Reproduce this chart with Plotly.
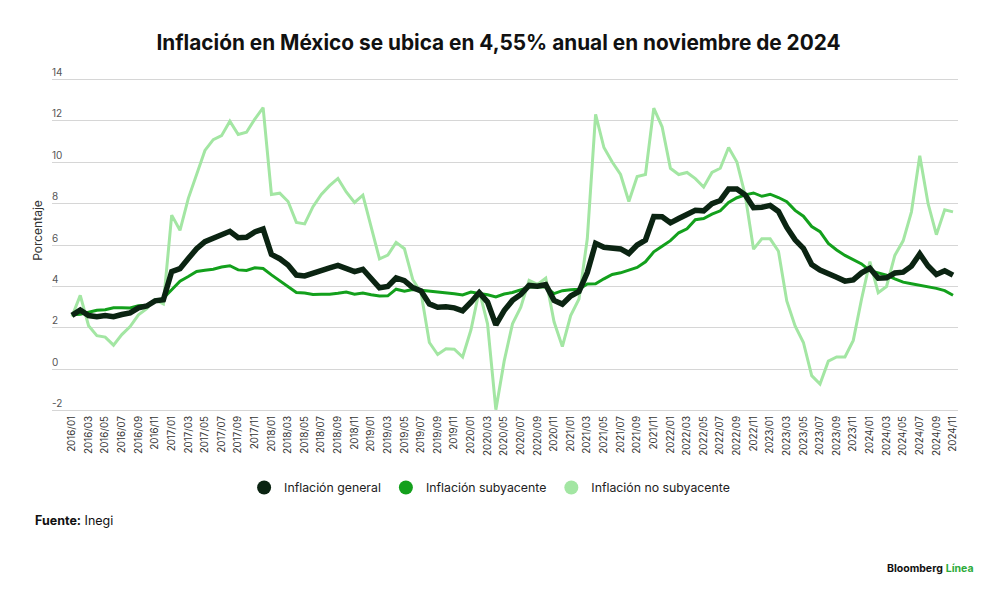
import plotly.graph_objects as go

# Month labels 2016/01 .. 2024/11
months = [f"{y}/{m:02d}" for y in range(2016, 2025) for m in range(1, 13)][:107]

# Inflación general (headline), % anual
general = [
    2.61, 2.87, 2.60, 2.54, 2.60, 2.54, 2.65, 2.73, 2.97, 3.06, 3.31, 3.36,
    4.72, 4.86, 5.35, 5.82, 6.16, 6.31, 6.44, 6.66, 6.35, 6.37, 6.63, 6.77,
    5.55, 5.34, 5.04, 4.55, 4.51, 4.65, 4.81, 4.90, 5.02, 4.90, 4.72, 4.83,
    4.37, 3.94, 4.00, 4.41, 4.28, 3.95, 3.78, 3.16, 3.00, 3.02, 2.97, 2.83,
    3.24, 3.70, 3.25, 2.15, 2.84, 3.33, 3.62, 4.05, 4.01, 4.09, 3.33, 3.15,
    3.54, 3.76, 4.67, 6.08, 5.89, 5.88, 5.81, 5.59, 6.00, 6.24, 7.37, 7.36,
    7.07, 7.28, 7.45, 7.68, 7.65, 7.99, 8.15, 8.70, 8.70, 8.41, 7.80, 7.82,
    7.91, 7.62, 6.85, 6.25, 5.84, 5.06, 4.79, 4.64, 4.45, 4.26, 4.32, 4.66,
    4.88, 4.40, 4.42, 4.65, 4.69, 4.98, 5.57, 4.99, 4.58, 4.76, 4.55,
]

# Inflación subyacente (core)
subyacente = [
    2.64, 2.66, 2.76, 2.85, 2.88, 2.97, 2.97, 2.96, 3.07, 3.10, 3.29, 3.44,
    3.84, 4.26, 4.48, 4.72, 4.78, 4.83, 4.94, 5.00, 4.80, 4.77, 4.90, 4.87,
    4.56, 4.27, 4.02, 3.71, 3.69, 3.62, 3.63, 3.63, 3.67, 3.73, 3.63, 3.68,
    3.60, 3.54, 3.55, 3.87, 3.77, 3.85, 3.82, 3.78, 3.75, 3.68, 3.65, 3.59,
    3.73, 3.66, 3.60, 3.50, 3.64, 3.71, 3.85, 3.97, 3.99, 3.98, 3.66, 3.80,
    3.84, 3.87, 4.12, 4.13, 4.37, 4.58, 4.66, 4.78, 4.92, 5.19, 5.67, 5.94,
    6.21, 6.59, 6.78, 7.22, 7.28, 7.49, 7.65, 8.05, 8.28, 8.42, 8.51, 8.35,
    8.45, 8.29, 8.09, 7.67, 7.39, 6.89, 6.64, 6.08, 5.76, 5.50, 5.30, 5.09,
    4.76, 4.64, 4.55, 4.37, 4.21, 4.13, 4.05, 4.00, 3.91, 3.80, 3.58,
]

# Inflación no subyacente (non-core)
no_subyacente = [
    2.55, 3.57, 2.11, 1.63, 1.56, 1.17, 1.68, 2.07, 2.63, 2.93, 3.37, 3.16,
    7.44, 6.71, 8.25, 9.36, 10.56, 11.08, 11.27, 11.97, 11.33, 11.44, 12.07, 12.62,
    8.44, 8.50, 8.10, 7.09, 7.02, 7.85, 8.44, 8.86, 9.21, 8.56, 8.05, 8.40,
    6.80, 5.33, 5.51, 6.13, 5.82, 4.34, 3.70, 1.30, 0.72, 1.00, 0.98, 0.60,
    1.90, 3.80, 2.20, -1.94, 0.40, 2.20, 3.00, 4.30, 4.10, 4.40, 2.30, 1.10,
    2.60, 3.40, 6.30, 12.30, 10.70, 10.00, 9.40, 8.10, 9.30, 9.40, 12.60, 11.70,
    9.70, 9.40, 9.50, 9.20, 8.80, 9.50, 9.70, 10.70, 10.00, 8.40, 5.80, 6.30,
    6.30, 5.70, 3.30, 2.10, 1.30, -0.30, -0.70, 0.40, 0.60, 0.60, 1.40, 3.40,
    5.20, 3.70, 4.00, 5.50, 6.20, 7.60, 10.30, 8.00, 6.50, 7.70, 7.60,
]

y_ticks = [-2, 0, 2, 4, 6, 8, 10, 12, 14]
y_ticktext = ["-2", "0", "2", "4", "6", "8", "10", "12", "14"]

series = [
    ("Inflación no subyacente", no_subyacente, "#a3e6a3", 3),
    ("Inflación subyacente", subyacente, "#13a01c", 3),
    ("Inflación general", general, "#0b2412", 5.5),
]
legend_order = ["Inflación general", "Inflación subyacente", "Inflación no subyacente"]
colors = {name: c for name, _, c, _ in series}

fig = go.Figure()

for name, vals, color, width in series:
    fig.add_trace(go.Scatter(
        x=months, y=vals, mode="lines", name=name, showlegend=False,
        line=dict(color=color, width=width),
    ))

# legend entries drawn as circles
for name in legend_order:
    fig.add_trace(go.Scatter(
        x=[None], y=[None], mode="markers", name=name,
        marker=dict(color=colors[name], size=14, symbol="circle"),
    ))

# page body has an 8px margin, so the figure is a bit smaller than the window
fig.update_layout(
    width=992, height=587,
    paper_bgcolor="white", plot_bgcolor="white",
    margin=dict(l=44, r=42, t=39.9, b=182.4),
    font=dict(family="Inter, Roboto, sans-serif", color="#333333"),
    title=dict(
        text="<b>Inflación en México se ubica en 4,55% anual en noviembre de 2024</b>",
        x=0.4945, xanchor="center", y=0.9404, yanchor="middle",
        font=dict(size=20.8, color="#111111", family="Inter, Roboto, sans-serif"),
    ),
    legend=dict(
        orientation="h", x=0.483, xanchor="center", y=-0.204, yanchor="middle",
        font=dict(size=12.3, color="#222222"),
        itemsizing="trace", itemwidth=30, tracegroupgap=0,
    ),
    xaxis=dict(
        type="category", range=[-2.4, 106.6], automargin=False,
        tickmode="array", tickvals=months[::2], ticktext=months[::2],
        tickangle=-90, tickfont=dict(size=9.8, color="#333333"),
        showgrid=False, zeroline=False, showline=False, ticks="",
    ),
    yaxis=dict(
        range=[-2.1, 15.5], tickvals=y_ticks, ticktext=y_ticktext, automargin=False,
        showgrid=True, gridcolor="#d6d6d6", gridwidth=1, zeroline=False,
        tickfont=dict(size=10, color="#555555"), ticklabelposition="inside top",
        ticklabelstandoff=-3,
        title=dict(text="Porcentaje", font=dict(size=12, color="#333333"), standoff=6),
    ),
)

fig.add_annotation(
    text="<b>Fuente:</b> Inegi", xref="paper", yref="paper", x=-0.021, y=-0.2945,
    xanchor="left", yanchor="middle", showarrow=False,
    font=dict(size=12.5, color="#111111"),
)
fig.add_annotation(
    text="<b>Bloomberg</b> <b><span style='color:#2dab3a'>Línea</span></b>",
    xref="paper", yref="paper", x=1.02, y=-0.4261,
    xanchor="right", yanchor="middle", showarrow=False,
    font=dict(size=10.5, color="#111111"),
)

fig.write_html("out.html")
